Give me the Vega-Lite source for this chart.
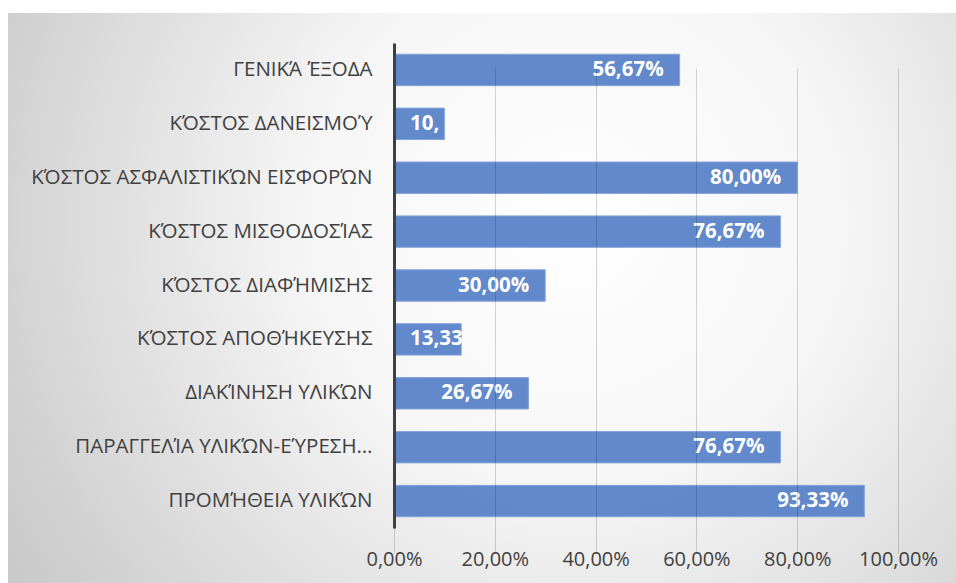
{
  "$schema": "https://vega.github.io/schema/vega-lite/v6.json",
  "autosize": "none",
  "width": 948,
  "height": 570,
  "padding": {"left": 8, "top": 13, "right": 0, "bottom": 0},
  "background": "#ffffff",
  "config": {
    "view": {"stroke": null},
    "locale": {"number": {"decimal": ",", "thousands": ".", "grouping": [3], "currency": ["", " €"]}},
    "font": "Open Sans"
  },
  "datasets": {
    "costs": [
      {"category": "ΓΕΝΙΚΆ ΈΞΟΔΑ", "value": 0.5667},
      {"category": "ΚΌΣΤΟΣ ΔΑΝΕΙΣΜΟΎ", "value": 0.10},
      {"category": "ΚΌΣΤΟΣ ΑΣΦΑΛΙΣΤΙΚΏΝ ΕΙΣΦΟΡΏΝ", "value": 0.80},
      {"category": "ΚΌΣΤΟΣ ΜΙΣΘΟΔΟΣΊΑΣ", "value": 0.7667},
      {"category": "ΚΌΣΤΟΣ ΔΙΑΦΉΜΙΣΗΣ", "value": 0.30},
      {"category": "ΚΌΣΤΟΣ ΑΠΟΘΉΚΕΥΣΗΣ", "value": 0.1333},
      {"category": "ΔΙΑΚΊΝΗΣΗ ΥΛΙΚΏΝ", "value": 0.2667},
      {"category": "ΠΑΡΑΓΓΕΛΊΑ ΥΛΙΚΏΝ-ΕΎΡΕΣΗ…", "value": 0.7667},
      {"category": "ΠΡΟΜΉΘΕΙΑ ΥΛΙΚΏΝ", "value": 0.9333}
    ]
  },
  "layer": [
    {
      "data": {"values": [{}]},
      "mark": {
        "type": "rect",
        "color": {
          "gradient": "radial",
          "x1": 0.6, "y1": 0.42, "r1": 0,
          "x2": 0.6, "y2": 0.42, "r2": 0.8,
          "stops": [
            {"offset": 0, "color": "#ffffff"},
            {"offset": 0.35, "color": "#f6f6f6"},
            {"offset": 0.8, "color": "#cfcfcf"},
            {"offset": 1, "color": "#c2c2c2"}
          ]
        }
      },
      "encoding": {}
    },
    {
      "data": {"name": "costs"},
      "mark": {"type": "bar", "color": "#5580c8", "fillOpacity": 0.93, "stroke": "#86a4d9", "strokeWidth": 1},
      "encoding": {
        "y": {
          "field": "category", "type": "nominal", "sort": null,
          "scale": {"range": [30, 515], "paddingInner": 0.417, "paddingOuter": 0.2085},
          "axis": {
            "title": null, "orient": "left", "offset": -386, "zindex": 2,
            "domainColor": "#404040", "domainWidth": 3,
            "ticks": false, "labelPadding": 22, "labelLimit": 500,
            "labelFont": "Open Sans", "labelFontSize": 20.5, "labelColor": "#404040",
            "grid": false
          }
        },
        "x": {
          "field": "value", "type": "quantitative",
          "scale": {"domain": [0, 1], "range": [386, 890], "nice": false, "zero": true},
          "axis": {
            "title": null, "orient": "bottom", "offset": -55, "zindex": 1,
            "values": [0, 0.2, 0.4, 0.6, 0.8, 1],
            "format": ".2%", "domain": false, "ticks": false, "tickSize": 0,
            "labelOverlap": false, "labelFlush": false, "labelBound": false,
            "labelPadding": 21, "labelFont": "Open Sans", "labelFontSize": 20, "labelColor": "#404040",
            "grid": true, "gridColor": "#000000", "gridOpacity": 0.16, "gridWidth": 1
          }
        }
      }
    },
    {
      "data": {"name": "costs"},
      "transform": [{"filter": "datum.value >= 0.2"}],
      "mark": {"type": "text", "align": "right", "baseline": "middle", "dx": -16, "color": "#ffffff", "font": "Open Sans", "fontWeight": "bold", "fontSize": 20.5},
      "encoding": {
        "y": {"field": "category", "type": "nominal", "sort": null},
        "x": {"field": "value", "type": "quantitative"},
        "text": {"field": "value", "type": "quantitative", "format": ".2%"}
      }
    },
    {
      "data": {"name": "costs"},
      "transform": [{"filter": "datum.value < 0.12"}],
      "mark": {"type": "text", "align": "left", "baseline": "middle", "dx": 16, "limit": 36, "ellipsis": "\u200b", "color": "#ffffff", "font": "Open Sans", "fontWeight": "bold", "fontSize": 20.5},
      "encoding": {
        "y": {"field": "category", "type": "nominal", "sort": null},
        "x": {"datum": 0, "type": "quantitative"},
        "text": {"field": "value", "type": "quantitative", "format": ".2%"}
      }
    },
    {
      "data": {"name": "costs"},
      "transform": [{"filter": "datum.value >= 0.12 && datum.value < 0.2"}],
      "mark": {"type": "text", "align": "left", "baseline": "middle", "dx": 16, "limit": 57, "ellipsis": "\u200b", "color": "#ffffff", "font": "Open Sans", "fontWeight": "bold", "fontSize": 20.5},
      "encoding": {
        "y": {"field": "category", "type": "nominal", "sort": null},
        "x": {"datum": 0, "type": "quantitative"},
        "text": {"field": "value", "type": "quantitative", "format": ".2%"}
      }
    }
  ]
}
